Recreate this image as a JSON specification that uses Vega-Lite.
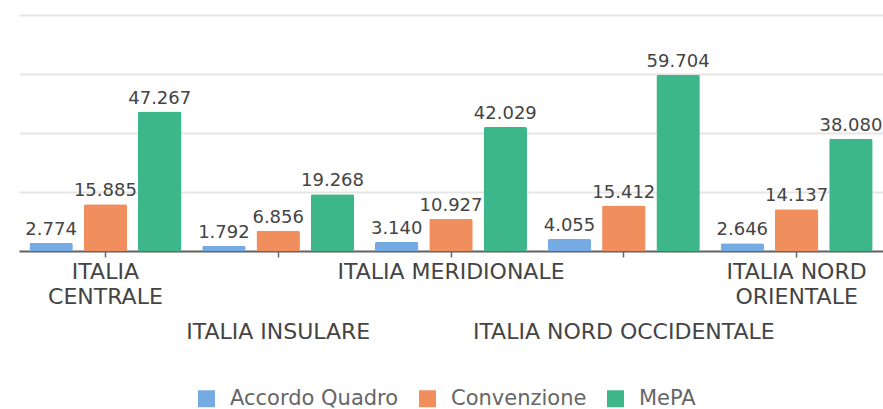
{
  "$schema": "https://vega.github.io/schema/vega-lite/v6.json",
  "autosize": {"type": "none"},
  "width": 864,
  "height": 236,
  "padding": {"left": 19, "top": 15, "right": 0, "bottom": 158},
  "data": {"values": [
    {"area": "ITALIA CENTRALE", "tipo": "Accordo Quadro", "valore": 2774},
    {"area": "ITALIA CENTRALE", "tipo": "Convenzione", "valore": 15885},
    {"area": "ITALIA CENTRALE", "tipo": "MePA", "valore": 47267},
    {"area": "ITALIA INSULARE", "tipo": "Accordo Quadro", "valore": 1792},
    {"area": "ITALIA INSULARE", "tipo": "Convenzione", "valore": 6856},
    {"area": "ITALIA INSULARE", "tipo": "MePA", "valore": 19268},
    {"area": "ITALIA MERIDIONALE", "tipo": "Accordo Quadro", "valore": 3140},
    {"area": "ITALIA MERIDIONALE", "tipo": "Convenzione", "valore": 10927},
    {"area": "ITALIA MERIDIONALE", "tipo": "MePA", "valore": 42029},
    {"area": "ITALIA NORD OCCIDENTALE", "tipo": "Accordo Quadro", "valore": 4055},
    {"area": "ITALIA NORD OCCIDENTALE", "tipo": "Convenzione", "valore": 15412},
    {"area": "ITALIA NORD OCCIDENTALE", "tipo": "MePA", "valore": 59704},
    {"area": "ITALIA NORD ORIENTALE", "tipo": "Accordo Quadro", "valore": 2646},
    {"area": "ITALIA NORD ORIENTALE", "tipo": "Convenzione", "valore": 14137},
    {"area": "ITALIA NORD ORIENTALE", "tipo": "MePA", "valore": 38080}
  ]},
  "encoding": {
    "x": {
      "field": "area", "type": "nominal", "sort": null,
      "scale": {"paddingInner": 0.12, "paddingOuter": 0.06},
      "axis": {
        "title": null,
        "labelAngle": 0,
        "labelFont": "DejaVu Sans",
        "labelFontSize": 22,
        "labelColor": "#444444",
        "labelLineHeight": 25,
        "labelPadding": {"condition": {"test": "datum.value == 'ITALIA INSULARE' || datum.value == 'ITALIA NORD OCCIDENTALE'", "value": 64}, "value": 4},
        "labelLimit": 0,
        "labelOverlap": false,
        "labelBound": false,
        "labelExpr": "datum.label == 'ITALIA CENTRALE' ? ['ITALIA','CENTRALE'] : datum.label == 'ITALIA NORD ORIENTALE' ? ['ITALIA NORD','ORIENTALE'] : datum.label",
        "domainColor": "#666666",
        "domainWidth": 2,
        "tickColor": "#666666",
        "tickSize": 6,
        "tickWidth": 1.5,
        "grid": false
      }
    },
    "xOffset": {"field": "tipo", "type": "nominal", "scale": {"paddingInner": 0.2}},
    "y": {
      "field": "valore", "type": "quantitative",
      "scale": {"domain": [0, 80000], "nice": false},
      "axis": {
        "title": null, "labels": false, "ticks": false, "domain": false,
        "values": [0, 20000, 40000, 60000, 80000],
        "grid": true, "gridColor": "#e6e6e6", "gridWidth": 2
      }
    }
  },
  "layer": [
    {
      "mark": {"type": "bar", "cornerRadius": 2},
      "encoding": {
        "color": {
          "field": "tipo", "type": "nominal",
          "scale": {"domain": ["Accordo Quadro", "Convenzione", "MePA"], "range": ["#75aae2", "#f08e5e", "#3eb68c"]},
          "legend": {
            "title": null,
            "orient": "none",
            "legendX": 177,
            "legendY": 373,
            "direction": "horizontal",
            "symbolType": "square",
            "symbolSize": 289,
            "symbolStrokeWidth": 0,
            "symbolOpacity": 1,
            "labelFont": "DejaVu Sans",
            "labelFontSize": 21,
            "labelColor": "#666666",
            "labelOffset": 13,
            "labelLimit": 0,
            "columnPadding": 18
          }
        }
      }
    },
    {
      "mark": {"type": "text", "baseline": "bottom", "dy": -4, "font": "DejaVu Sans", "fontSize": 18, "color": "#444444"},
      "encoding": {
        "text": {"field": "valore", "type": "quantitative", "format": ",d"}
      }
    }
  ],
  "config": {
    "view": {"stroke": null},
    "locale": {"number": {"decimal": ",", "thousands": ".", "grouping": [3], "currency": ["€", ""]}}
  }
}
